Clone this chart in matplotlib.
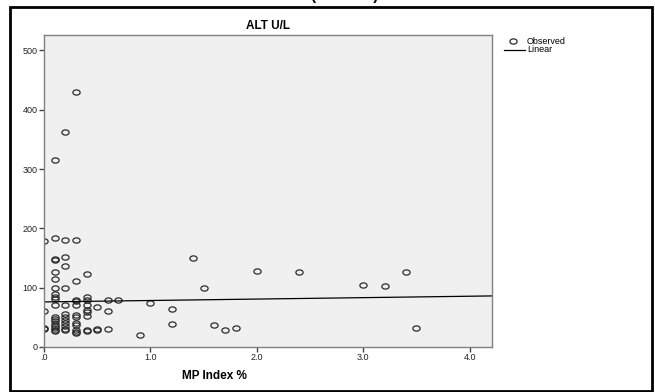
import matplotlib
matplotlib.use('Agg')
import matplotlib.pyplot as plt
from matplotlib.path import Path
from matplotlib.patches import Rectangle
import numpy as np

plt.rcParams['font.family'] = ['Liberation Sans', 'DejaVu Sans']

mp_index = [0.3, 0.2, 0.1,
            0.0, 0.1, 0.2, 0.3,
            0.1, 0.1, 0.2, 0.2, 0.1, 0.1, 0.1, 0.1, 0.1, 0.1, 0.1,
            0.1, 0.1, 0.1, 0.1, 0.1, 0.1, 0.1, 0.1,
            0.0, 0.0, 0.0,
            0.2, 0.2, 0.2, 0.2, 0.2, 0.2, 0.2, 0.2, 0.2,
            0.3, 0.3, 0.3, 0.3, 0.3, 0.3, 0.3, 0.3, 0.3, 0.3, 0.3,
            0.4, 0.4, 0.4, 0.4, 0.4, 0.4, 0.4, 0.4, 0.4,
            0.5, 0.5, 0.5,
            0.6, 0.6, 0.6,
            0.7, 0.9, 1.0,
            1.2, 1.2, 1.4, 1.5, 1.6, 1.7, 1.8,
            2.0, 2.4, 3.0, 3.2, 3.4, 3.5]
alt = [430, 362, 316,
       179, 184, 180, 180,
       148, 146, 152, 137, 127, 114, 100, 89, 85, 81, 70,
       51, 47, 43, 39, 35, 32, 29, 27,
       60, 32, 30,
       100, 70, 56, 51, 45, 40, 35, 30, 28,
       111, 80, 78, 70, 54, 51, 40, 37, 28, 25, 23,
       123, 85, 80, 70, 62, 59, 52, 29, 27,
       68, 31, 29,
       80, 60, 31,
       79, 21, 74,
       64, 39, 150, 100, 37, 29, 32,
       128, 126, 105, 103, 126, 32]

# Linear fit line as drawn in the chart
fit_intercept = 76
fit_slope = 2.4

x_ticks = [0, 1, 2, 3, 4]
x_tick_labels = ['.0', '1.0', '2.0', '3.0', '4.0']
y_ticks = [0, 100, 200, 300, 400, 500]

W, H = 655, 392
fig = plt.figure(figsize=(W / 100, H / 100), dpi=100)
fig.patch.set_facecolor('white')

# outer black frame
fig.patches.append(Rectangle((10 / W, 1 - 391 / H), 642 / W, 384 / H,
                             transform=fig.transFigure, fill=False,
                             edgecolor='black', linewidth=2.0))

# caption above, cropped so only the bottom of the brackets shows
fig.text(345 / W, 1.0, '(ALT U/L)', ha='center', va='baseline',
         fontsize=11, fontweight='bold', color='black')

ax = fig.add_axes([44 / W, 1 - 347 / H, 448 / W, 312 / H])
ax.set_facecolor('#f0f0f0')

# slightly flattened open circle, like the stretched original
t = np.linspace(0, 2 * np.pi, 40)
ell = Path(np.column_stack([np.cos(t), 0.72 * np.sin(t)]), closed=True)

ax.plot(mp_index, alt, linestyle='none', marker=ell, markersize=5.2,
        markerfacecolor='none', markeredgecolor='#2a2a2a', markeredgewidth=0.9)

xs = np.array([0, 4.21])
ax.plot(xs, fit_intercept + fit_slope * xs, color='black', linewidth=0.9)

ax.set_xlim(0, 4.21)
ax.set_ylim(0, 526)
ax.set_xticks(x_ticks)
ax.set_xticklabels(x_tick_labels)
ax.set_yticks(y_ticks)
ax.tick_params(length=3.5, width=1, color='#444444', labelsize=6.5,
               labelcolor='#222222', pad=1)
for s in ax.spines.values():
    s.set_color('#808080')
    s.set_linewidth(1)

ax.set_title('ALT U/L', fontsize=8.5, fontweight='bold', pad=4)
fig.text(214 / W, 1 - 376 / H, 'MP Index %', ha='center', va='center',
         fontsize=8.5, fontweight='bold')

# legend drawn by hand
fig.lines.append(plt.Line2D([513 / W], [1 - 41 / H], transform=fig.transFigure,
                            linestyle='none', marker=ell, markersize=5.2,
                            markerfacecolor='none', markeredgecolor='#2a2a2a',
                            markeredgewidth=0.9))
fig.text(527 / W, 1 - 41 / H, 'Observed', fontsize=6.5, va='center')
fig.lines.append(plt.Line2D([504 / W, 525 / W], [1 - 49.5 / H, 1 - 49.5 / H],
                            transform=fig.transFigure, color='black', linewidth=0.9))
fig.text(527 / W, 1 - 49.5 / H, 'Linear', fontsize=6.5, va='center')

fig.savefig('out.png', dpi=100)
